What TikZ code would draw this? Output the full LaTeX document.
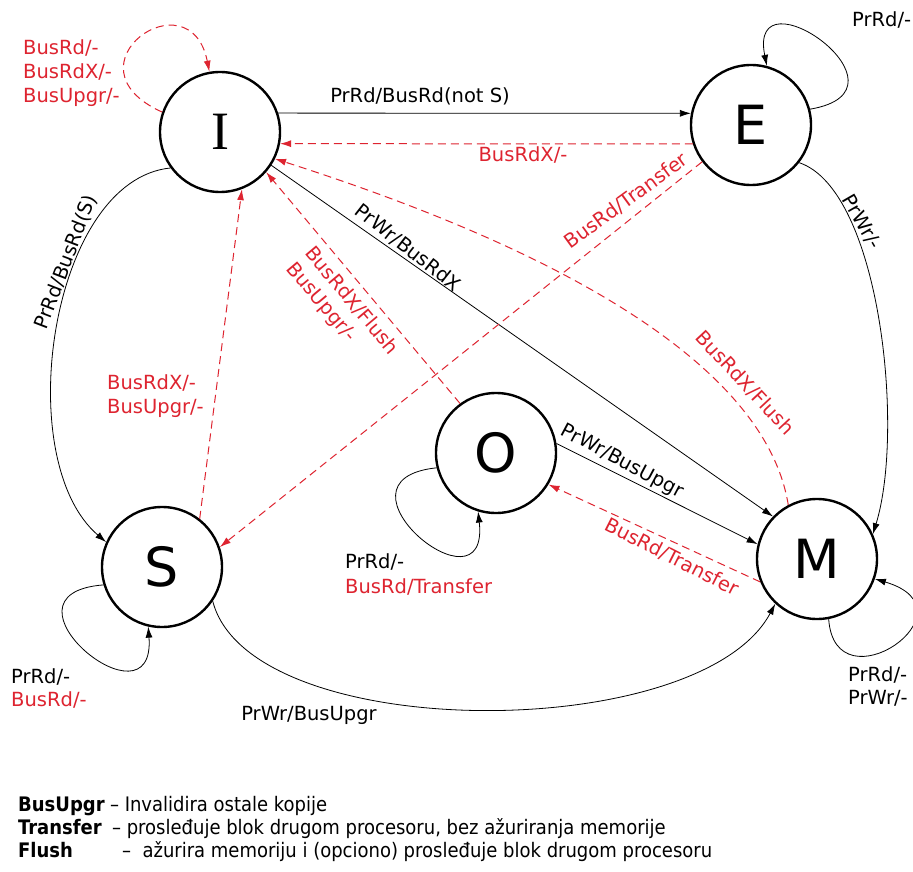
\documentclass[tikz,border=0pt]{standalone}
\usepackage{fontspec}
\setmainfont{DejaVu Sans}
\newfontfamily\serifletter{Liberation Serif}
\newfontfamily\legendfont{DejaVu Sans Condensed}
\usetikzlibrary{arrows.meta,calc}
\definecolor{busred}{RGB}{222,36,48}

\begin{document}
\begin{tikzpicture}[x=1pt,y=-1pt,
  state/.style={circle,draw,line width=2.4pt,minimum size=120pt,inner sep=0pt,
                font=\fontsize{54}{54}\selectfont},
  tr/.style={draw=black,line width=0.8pt,-{Latex[length=11pt,width=7pt]}},
  snoop/.style={draw=busred,line width=1pt,dash pattern=on 8pt off 5pt,
                -{Latex[length=11pt,width=7pt]}},
  lbl/.style={font=\fontsize{19.5}{24}\selectfont,inner sep=0pt},
  rlbl/.style={lbl,text=busred},
  legend/.style={font=\legendfont\fontsize{20}{23}\selectfont,inner sep=0pt,anchor=base west},
]
\useasboundingbox (0,0) rectangle (913,872);
\fill[white] (0,0) rectangle (913,872);

% states
\node[state] (I) at (220,132) {\serifletter I};
\node[state] (E) at (751,125) {E};
\node[state] (O) at (496,453) {O};
\node[state] (S) at (162,567) {S};
\node[state] (M) at (817,559) {M};

% processor-side transitions
\draw[tr] (I.18) -- (E.169);
\draw[tr] (E.15) .. controls ($(E)+(172,-35)$) and ($(E)+(-4,-158)$) .. (E.75);
\draw[tr] (E.-38) .. controls (880,190) and (905,430) .. (M.24);
\draw[tr] (I.216) .. controls (50,180) and (10,460) .. (S.156);
\draw[tr] (I.-33) -- (M.136);
\draw[tr] (O.9) -- (M.166);
\draw[tr] (S.-34) .. controls (250,745) and (700,745) .. (M.-133);
\draw[tr] (O.194) .. controls ($(O)+(-176,27)$) and ($(O)+(-6,167)$) .. (O.253);
\draw[tr] (S.197) .. controls ($(S)+(-176,27)$) and ($(S)+(-6,167)$) .. (S.257);
\draw[tr] (M.-79) .. controls ($(M)+(18,151)$) and ($(M)+(163,51)$) .. (M.-19);

% bus-side (snooped) transitions
\draw[snoop] (E.198.5) -- (I.-11.5);
\draw[snoop] (I.161) .. controls ($(I)+(-160,-66)$) and ($(I)+(-30,-158)$) .. (I.100);
\draw[snoop] (S.52) -- (I.-69);
\draw[snoop] (E.217) -- (S.19);
\draw[snoop] (M.118) .. controls (760,330) and (450,215) .. (I.-26);
\draw[snoop] (O.126) -- (I.-41);
\draw[snoop] (M.202) -- (O.-31);

% transition labels
\node[lbl] (lIE) at (420,96) {PrRd/BusRd(not S)};
\node[rlbl] (lEI) at (523,155) {BusRdX/-};
\node[rlbl,anchor=west,align=left] (lII) at (23,73) {BusRd/-\\BusRdX/-\\BusUpgr/-};
\node[lbl,anchor=west] (lEE) at (852,20) {PrRd/-};
\node[lbl,rotate=-60] (lEM) at (862,222) {PrWr/-};
\node[lbl,rotate=69] (lIS) at (66,262) {PrRd/BusRd(S)};
\node[rlbl,anchor=west,align=left] (lSI) at (107,396) {BusRdX/-\\BusUpgr/-};
\node[rlbl,rotate=36] (lES) at (626,201) {BusRd/Transfer};
\node[lbl,rotate=-38] (lIM) at (408,248) {PrWr/BusRdX};
\node[rlbl,rotate=-50,align=left] (lOI) at (342,309) {BusRdX/Flush\\BusUpgr/-};
\node[rlbl,rotate=-47] (lMI) at (745,383) {BusRdX/Flush};
\node[lbl,rotate=-28] (lOM) at (622,462) {PrWr/BusUpgr};
\node[rlbl,rotate=-27] (lMO) at (672,557) {BusRd/Transfer};
\node[lbl,anchor=west] (lOOa) at (345,562) {PrRd/-};
\node[rlbl,anchor=west] (lOOb) at (345,587) {BusRd/Transfer};
\node[lbl,anchor=west] (lSSa) at (11,677) {PrRd/-};
\node[rlbl,anchor=west] (lSSb) at (11,700) {BusRd/-};
\node[lbl] (lSM) at (309,715) {PrWr/BusUpgr};
\node[lbl,anchor=west] (lMMa) at (848,675) {PrRd/-};
\node[lbl,anchor=west] (lMMb) at (848,698) {PrWr/-};

% legend
\node[legend] (k1) at (18,811) {\bfseries BusUpgr};
\node[legend] (k1t) at ($(k1.base east)+(5,0)$) {– Invalidira ostale kopije};
\node[legend] (k2) at (18,834) {\bfseries Transfer};
\node[legend] (k2t) at ($(k2.base east)+(10,0)$) {– prosleđuje blok drugom procesoru, bez ažuriranja memorije};
\node[legend] (k3) at (18,857) {\bfseries Flush};
\node[legend] (k3t) at ($(k2t.base west)+(10,23)$) {–\ \ ažurira memoriju i (opciono) prosleđuje blok drugom procesoru};
\end{tikzpicture}
\end{document}
